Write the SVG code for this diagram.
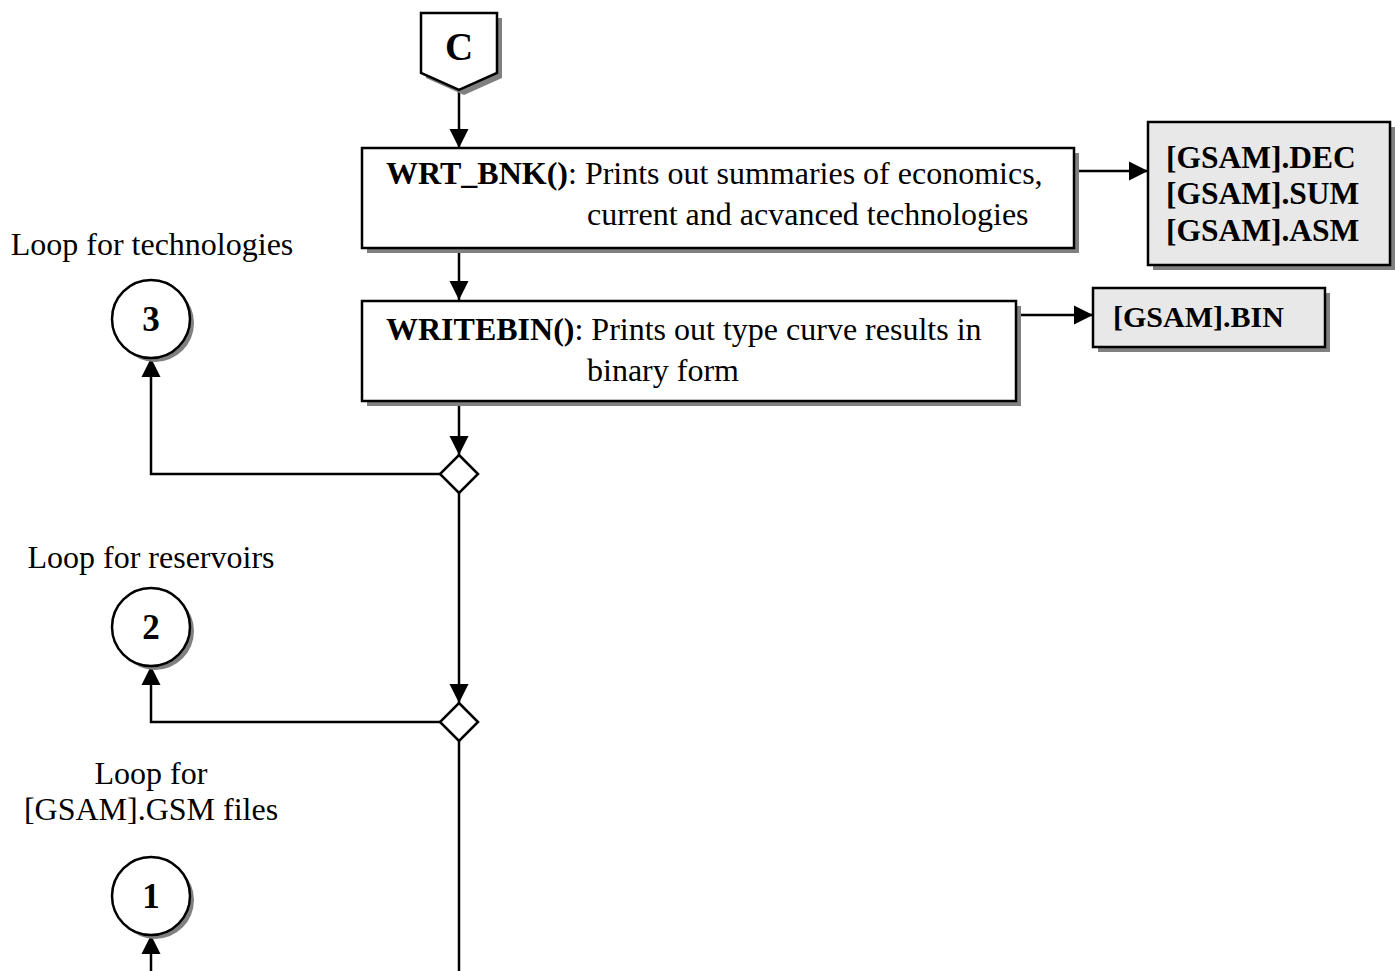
<svg xmlns="http://www.w3.org/2000/svg" width="1395" height="971" viewBox="0 0 1395 971">
<style>
.t{font-family:"Liberation Serif","Times New Roman",serif;font-size:32px;fill:#000}
.b{font-weight:bold}
.box{fill:#fff;stroke:#000;stroke-width:2.5}
.obox{fill:#e8e8e8;stroke:#000;stroke-width:2.5}
.sh{fill:#808080;stroke:none}
.ln{fill:none;stroke:#000;stroke-width:2.5}
.num{font-size:35px;font-weight:bold}
</style>
<defs>
<marker id="arr" viewBox="0 0 10 10" refX="10" refY="5" markerUnits="userSpaceOnUse" markerWidth="19" markerHeight="21" orient="auto">
<path d="M0,0 L10,5 L0,10 z" fill="#000"/>
</marker>
</defs>
<rect width="1395" height="971" fill="#fff"/>

<g id="connectors">
<line class="ln" x1="459" y1="90" x2="459" y2="148" marker-end="url(#arr)"/>
<line class="ln" x1="459" y1="253" x2="459" y2="300" marker-end="url(#arr)"/>
<line class="ln" x1="1074" y1="171" x2="1148" y2="171" marker-end="url(#arr)"/>
<line class="ln" x1="1016" y1="315" x2="1093" y2="315" marker-end="url(#arr)"/>
<line class="ln" x1="459" y1="406" x2="459" y2="455" marker-end="url(#arr)"/>
<polyline class="ln" points="440,474 151,474 151,358" marker-end="url(#arr)"/>
<line class="ln" x1="459" y1="493" x2="459" y2="703" marker-end="url(#arr)"/>
<polyline class="ln" points="440,722 151,722 151,666" marker-end="url(#arr)"/>
<line class="ln" x1="459" y1="741" x2="459" y2="971"/>
<line class="ln" x1="151" y1="971" x2="151" y2="935" marker-end="url(#arr)"/>
</g>

<g id="nodeC">
<polygon class="sh" points="426,18 502,18 502,78 464,95 426,78"/>
<polygon class="box" points="421,13 497,13 497,73 459,90 421,73"/>
<text class="t b" x="459" y="60" text-anchor="middle" style="font-size:39px">C</text>
</g>

<g id="wrt_bnk">
<rect class="sh" x="367" y="153" width="712" height="100"/>
<rect class="box" x="362" y="148" width="712" height="100"/>
<text class="t" x="386" y="184"><tspan class="b">WRT_BNK()</tspan>: Prints out summaries of economics,</text>
<text class="t" x="587" y="225">current and acvanced technologies</text>
</g>

<g id="out1">
<rect class="sh" x="1153" y="127" width="242" height="143"/>
<rect class="obox" x="1148" y="122" width="242" height="143"/>
<text class="t b" x="1166" y="168" style="font-size:31.5px">[GSAM].DEC</text>
<text class="t b" x="1166" y="204" style="font-size:31.5px">[GSAM].SUM</text>
<text class="t b" x="1166" y="241" style="font-size:31.5px">[GSAM].ASM</text>
</g>

<g id="writebin">
<rect class="sh" x="367" y="306" width="654" height="100"/>
<rect class="box" x="362" y="301" width="654" height="100"/>
<text class="t" x="386" y="340"><tspan class="b">WRITEBIN()</tspan>: Prints out type curve results in</text>
<text class="t" x="587" y="381">binary form</text>
</g>

<g id="out2">
<rect class="sh" x="1098" y="293" width="232" height="59"/>
<rect class="obox" x="1093" y="288" width="232" height="59"/>
<text class="t b" x="1113" y="327" style="font-size:30px">[GSAM].BIN</text>
</g>

<g id="dec1">
<polygon class="box" points="459,455 478,474 459,493 440,474"/>
</g>
<g id="dec2">
<polygon class="box" points="459,703 478,722 459,741 440,722"/>
</g>

<g id="loop3">
<text class="t" x="152" y="255" text-anchor="middle">Loop for technologies</text>
<circle class="sh" cx="155" cy="323" r="39"/>
<circle class="box" cx="151" cy="319" r="39"/>
<text class="t num" x="151" y="331" text-anchor="middle">3</text>
</g>

<g id="loop2">
<text class="t" x="151" y="568" text-anchor="middle">Loop for reservoirs</text>
<circle class="sh" cx="155" cy="631" r="39"/>
<circle class="box" cx="151" cy="627" r="39"/>
<text class="t num" x="151" y="639" text-anchor="middle">2</text>
</g>

<g id="loop1">
<text class="t" x="151" y="784" text-anchor="middle">Loop for</text>
<text class="t" x="151" y="820" text-anchor="middle">[GSAM].GSM files</text>
<circle class="sh" cx="155" cy="900" r="39"/>
<circle class="box" cx="151" cy="896" r="39"/>
<text class="t num" x="151" y="908" text-anchor="middle">1</text>
</g>
</svg>
